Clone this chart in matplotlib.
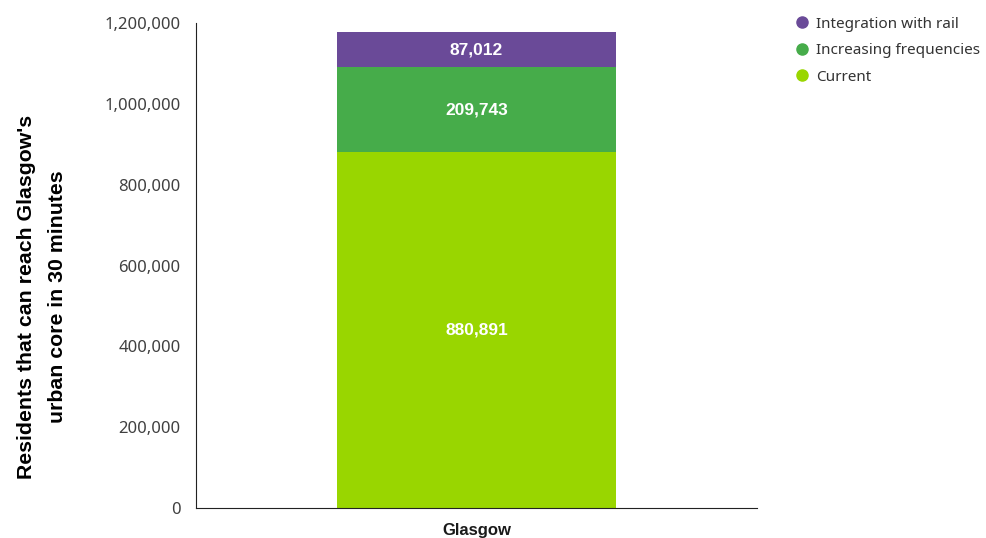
import matplotlib
matplotlib.use("Agg")
import matplotlib.pyplot as plt
from matplotlib.lines import Line2D
from matplotlib.ticker import FuncFormatter

plt.rcParams['font.family'] = ['Noto Sans', 'DejaVu Sans']
BOLD = ['Liberation Sans', 'DejaVu Sans']

categories = ["Glasgow"]
series_names = ["Current", "Increasing frequencies", "Integration with rail"]
series_values = {
    "Current": [880891],
    "Increasing frequencies": [209743],
    "Integration with rail": [87012],
}
colors = {
    "Current": "#99d600",
    "Increasing frequencies": "#46ac4a",
    "Integration with rail": "#6a4a98",
}
y_ticks = [0, 200000, 400000, 600000, 800000, 1000000, 1200000]

fig = plt.figure(figsize=(9.86, 5.38), dpi=100)
ax = fig.add_axes([196/986, 30/538, (757-196)/986, (508-23)/538])

x = list(range(len(categories)))
bottom = [0]*len(categories)
for name in series_names:
    vals = series_values[name]
    ax.bar(x, vals, bottom=bottom, width=0.497, color=colors[name], label=name)
    for i, v in enumerate(vals):
        ax.text(x[i], bottom[i] + v/2, f"{v:,}", ha='center', va='center',
                color='white', fontsize=12.5, fontweight='bold', family=BOLD)
    bottom = [b + v for b, v in zip(bottom, vals)]

ax.set_xlim(-0.5, 0.5)
ax.set_ylim(0, 1200000)
ax.set_yticks(y_ticks)
ax.yaxis.set_major_formatter(FuncFormatter(lambda v, p: f"{int(v):,}"))
ax.set_xticks(x)
ax.set_xticklabels(categories, fontsize=12, fontweight='bold', color='#1a1a1a',
                   family=BOLD)
ax.tick_params(axis='y', length=0, pad=11, labelsize=12, labelcolor='#404040')
ax.tick_params(axis='x', length=0, pad=11)
for s in ['top', 'right']:
    ax.spines[s].set_visible(False)
ax.spines['left'].set_color('#222222')
ax.spines['bottom'].set_color('#222222')
ax.set_ylabel("Residents that can reach Glasgow's\nurban core in 30 minutes",
              fontsize=15.3, fontweight='bold', linespacing=1.85, family=BOLD,
              va='center', ha='center')
ax.yaxis.set_label_coords((42 - 196) / 561, (508 - 297) / 485)

handles = [Line2D([0], [0], marker='o', linestyle='', markersize=8,
                  markerfacecolor=colors[n], markeredgecolor=colors[n])
           for n in reversed(series_names)]
fig.legend(handles, list(reversed(series_names)), loc='upper left',
           bbox_to_anchor=(779/986, 1 - 3/538), frameon=False, fontsize=11,
           handletextpad=0.3, labelspacing=0.75, labelcolor='#333333',
           handlelength=1.2)

fig.savefig("out.png", dpi=100)
